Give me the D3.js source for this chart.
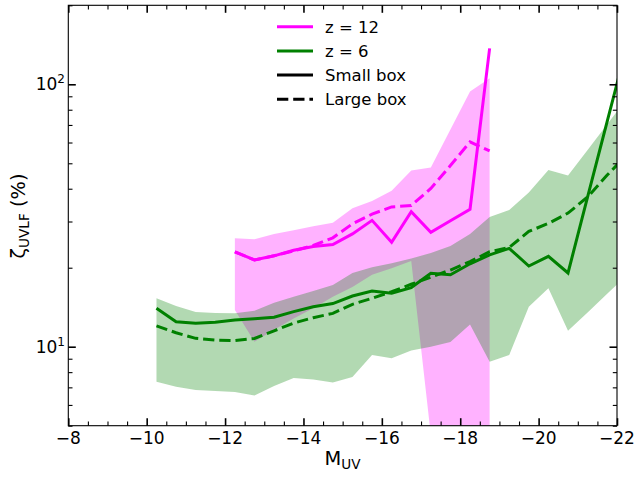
<!DOCTYPE html>
<meta charset="utf-8">
<script src="https://d3js.org/d3.v7.min.js"></script>
<style>
  body { margin: 0; background: #fff; }
  text { font-family: "DejaVu Sans", sans-serif; fill: #000; }
</style>
<svg id="chart" width="639" height="477"></svg>
<script>
  // bins in M_UV
  var magX = [-12.25, -12.75, -13.25, -13.75, -14.25, -14.75, -15.25, -15.75, -16.25, -16.75, -17.25, -17.75, -18.25, -18.75];
  var greenX = [-10.25, -10.75, -11.25, -11.75, -12.25, -12.75, -13.25, -13.75, -14.25, -14.75, -15.25, -15.75, -16.25,
    -16.75, -17.25, -17.75, -18.25, -18.75, -19.25, -19.75, -20.25, -20.75, -21.25, -21.75, -22.25];

  // z = 12
  var magSmall = [23.0, 21.4, 22.2, 23.3, 24.1, 24.5, 26.9, 30.3, 25.0, 32.7, 27.3, 30.2, 33.4, 137];
  var magLarge = [23.0, 21.4, 22.2, 23.2, 24.3, 26.0, 29.4, 32.0, 34.1, 34.5, 40.1, 49.0, 60.3, 55.7];
  var magUpper = [25.9, 25.7, 26.9, 27.8, 28.8, 29.7, 33.7, 35.9, 39.3, 46.9, 48.2, 67.3, 93.9, 105.4];
  var magLower = [13.8, 10.45, 11.6, 12.8, 14.0, 15.5, 16.9, 18.8, 19.9, 21.2, 4.6, 3.0, 2.0, 2.0];

  // z = 6
  var greenSmall = [14.0, 12.45, 12.28, 12.4, 12.64, 12.79, 12.95, 13.6, 14.2, 14.6, 15.6, 16.3, 16.0,
    16.8, 19.05, 18.8, 20.7, 22.4, 23.7, 20.3, 22.1, 19.1, 37.2, 72.3, 140];
  var greenLarge = [12.0, 11.3, 10.76, 10.6, 10.56, 10.75, 11.5, 12.3, 12.9, 13.4, 14.5, 15.3, 16.2,
    17.3, 18.4, 19.6, 21.1, 23.0, 23.9, 27.5, 29.5, 32.3, 37.2, 45.1, 53.8];
  var greenUpper = [15.3, 14.3, 13.56, 13.44, 13.4, 13.7, 14.7, 15.5, 16.3, 17.2, 19.1, 20.1, 20.8,
    21.7, 22.75, 24.2, 26.9, 31.2, 33.2, 38.7, 47.1, 44.9, 56.2, 70.4, 88.1];
  var greenLower = [7.36, 7.04, 6.84, 6.78, 6.72, 6.52, 7.08, 7.6, 7.5, 7.3, 7.66, 9.3, 9.03,
    9.67, 10.0, 10.42, 12.15, 8.77, 9.3, 14.2, 16.7, 11.5, 13.5, 15.9, 18.7];

  // ticks
  var xMajor = [-8, -10, -12, -14, -16, -18, -20, -22];
  var xMinor = [-8.5, -9, -9.5, -10.5, -11, -11.5, -12.5, -13, -13.5, -14.5, -15, -15.5, -16.5, -17, -17.5,
    -18.5, -19, -19.5, -20.5, -21, -21.5];
  var yMajor = [10, 100];
  var yMajorExp = ["1", "2"];
  var yMinor = [5, 6, 7, 8, 9, 20, 30, 40, 50, 60, 70, 80, 90, 200];

  var legendLabels = ["z = 12", "z = 6", "Small box", "Large box"];

  var svg = d3.select("#chart");
  // plot frame (px)
  var pL = 68.3, pR = 617, pT = 5.3, pB = 425.7;

  var x = d3.scaleLinear().domain([-8, -22]).range([pL, pR]);
  var y = d3.scaleLog().domain([5, 200]).range([pB, pT]);

  var MAG = "#ff00ff", GREEN = "#008000";

  svg.append("clipPath").attr("id", "clip")
    .append("rect").attr("x", pL).attr("y", pT)
    .attr("width", pR - pL).attr("height", pB - pT);

  var plot = svg.append("g").attr("clip-path", "url(#clip)");

  function band(xs, lo, hi) {
    return d3.area()
      .x(function (d, i) { return x(xs[i]); })
      .y0(function (d, i) { return y(lo[i]); })
      .y1(function (d, i) { return y(hi[i]); })(xs);
  }
  function line(xs, vs) {
    return d3.line()
      .x(function (d, i) { return x(xs[i]); })
      .y(function (d, i) { return y(vs[i]); })(xs);
  }

  // shaded ranges
  plot.append("path").attr("d", band(magX, magLower, magUpper))
    .attr("fill", MAG).attr("fill-opacity", 0.3);
  plot.append("path").attr("d", band(greenX, greenLower, greenUpper))
    .attr("fill", GREEN).attr("fill-opacity", 0.3);

  var lw = 3, dash = "11.3,4.9";
  plot.append("path").attr("d", line(magX, magSmall))
    .attr("fill", "none").attr("stroke", MAG).attr("stroke-width", lw);
  plot.append("path").attr("d", line(magX, magLarge))
    .attr("fill", "none").attr("stroke", MAG).attr("stroke-width", lw).attr("stroke-dasharray", dash);
  plot.append("path").attr("d", line(greenX, greenSmall))
    .attr("fill", "none").attr("stroke", GREEN).attr("stroke-width", lw);
  plot.append("path").attr("d", line(greenX, greenLarge))
    .attr("fill", "none").attr("stroke", GREEN).attr("stroke-width", lw).attr("stroke-dasharray", dash);

  // axes, ticks inward on all four sides
  function ticks(axis, vals, len, w, tr) {
    var g = svg.append("g").attr("transform", tr)
      .call(axis.tickValues(vals).tickSize(-len).tickFormat(""));
    g.select(".domain").remove();
    g.selectAll(".tick line").attr("stroke", "#000").attr("stroke-width", w);
  }
  ticks(d3.axisBottom(x), xMajor, 7.5, 1.6, "translate(0," + pB + ")");
  ticks(d3.axisBottom(x), xMinor, 4.2, 1.1, "translate(0," + pB + ")");
  ticks(d3.axisTop(x), xMajor, 7.5, 1.6, "translate(0," + pT + ")");
  ticks(d3.axisTop(x), xMinor, 4.2, 1.1, "translate(0," + pT + ")");
  ticks(d3.axisLeft(y), yMajor, 7.5, 1.6, "translate(" + pL + ",0)");
  ticks(d3.axisLeft(y), yMinor, 4.2, 1.1, "translate(" + pL + ",0)");
  ticks(d3.axisRight(y), yMajor, 7.5, 1.6, "translate(" + pR + ",0)");
  ticks(d3.axisRight(y), yMinor, 4.2, 1.1, "translate(" + pR + ",0)");

  svg.append("rect").attr("x", pL).attr("y", pT)
    .attr("width", pR - pL).attr("height", pB - pT)
    .attr("fill", "none").attr("stroke", "#000").attr("stroke-width", 1.1);

  // tick labels
  svg.selectAll(".xlab").data(xMajor).enter().append("text")
    .attr("x", function (d) { return x(d); }).attr("y", 443.8)
    .attr("text-anchor", "middle").style("font-size", "17px")
    .text(function (d) { return d3.format("d")(d).replace("-", "\u2212"); });

  yMajor.forEach(function (v, i) {
    var t = svg.append("text").attr("x", 65).attr("y", y(v) + 6.2)
      .attr("text-anchor", "end").style("font-size", "17px");
    t.append("tspan").text("10");
    t.append("tspan").attr("dy", -7).style("font-size", "12px").text(yMajorExp[i]);
  });

  // axis labels
  var xl = svg.append("text").attr("x", 342.6).attr("y", 465)
    .attr("text-anchor", "middle").style("font-size", "19.4px");
  xl.append("tspan").text("M");
  xl.append("tspan").attr("dy", 4).style("font-size", "13.6px").text("UV");

  var yl = svg.append("text").attr("transform", "translate(24.5,216) rotate(-90)")
    .attr("text-anchor", "middle").style("font-size", "19.4px");
  yl.append("tspan").text("\u03b6");
  yl.append("tspan").attr("dy", 4).style("font-size", "13.6px").text("UVLF");
  yl.append("tspan").attr("dy", -4).text(" (%)");

  // legend
  var legColor = [MAG, GREEN, "#000", "#000"];
  var legDash = [null, null, null, dash];
  var legend = svg.append("g");
  legendLabels.forEach(function (lab, i) {
    var ly = 26.7 + i * 24.2;
    legend.append("line").attr("x1", 277).attr("x2", 313).attr("y1", ly).attr("y2", ly)
      .attr("stroke", legColor[i]).attr("stroke-width", lw)
      .attr("stroke-dasharray", legDash[i]);
    legend.append("text").attr("x", 325).attr("y", ly + 6)
      .style("font-size", "16.5px").text(lab);
  });
</script>
